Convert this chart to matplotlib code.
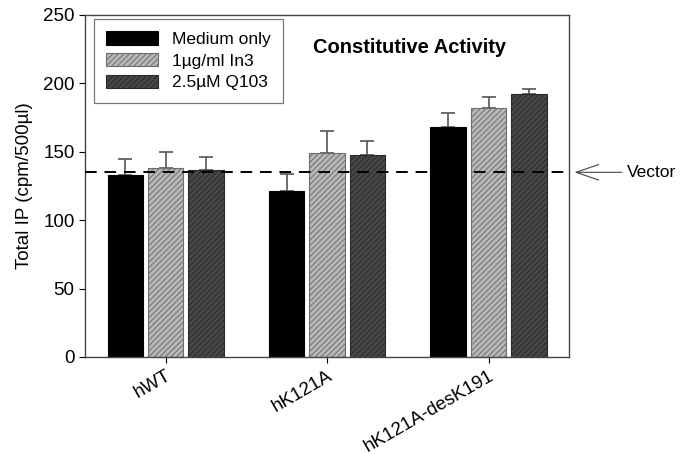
import numpy as np
import matplotlib.pyplot as plt

plt.rcParams['font.family'] = ['Liberation Sans', 'DejaVu Sans']
plt.rcParams['hatch.linewidth'] = 0.7

groups = ['hWT', 'hK121A', 'hK121A-desK191']
series = ['Medium only', '1\u00b5g/ml In3', '2.5\u00b5M Q103']
values = {
    'Medium only': [133, 121, 168],
    '1\u00b5g/ml In3': [138, 149, 182],
    '2.5\u00b5M Q103': [137, 148, 192],
}
errors = {
    'Medium only': [12, 13, 10],
    '1\u00b5g/ml In3': [12, 16, 8],
    '2.5\u00b5M Q103': [9, 10, 4],
}
vector_level = 135

fills = ['black', '#b8b8b8', '#474747']
edges = ['black', '#6e6e6e', '#2a2a2a']
hatches = [None, '//////', '//////']

fig = plt.figure(figsize=(6.85, 4.54), dpi=100)
ax = fig.add_axes([0.124, 0.2137, 0.707, 0.7533])

x = np.arange(len(groups))
width = 0.22
step = 0.25
for i, name in enumerate(series):
    pos = x + (i - 1) * step
    ax.bar(pos, values[name], width, color=fills[i], edgecolor=edges[i],
           hatch=hatches[i], linewidth=0.8, label=name, zorder=2)
    ax.errorbar(pos, values[name], yerr=[np.zeros(3), errors[name]],
                fmt='none', ecolor='#555555', elinewidth=1.2, capsize=5,
                capthick=1.2, zorder=1)

ax.axhline(vector_level, color='black', lw=1.4, dashes=(6, 4), zorder=3)
ax.annotate('Vector', xy=(1.005, vector_level),
            xycoords=('axes fraction', 'data'),
            xytext=(1.12, vector_level), textcoords=('axes fraction', 'data'),
            va='center', ha='left', fontsize=12.5, annotation_clip=False,
            arrowprops=dict(arrowstyle='->,head_length=1.3,head_width=0.45',
                            color='#444444', lw=0.8))

ax.set_xlim(-0.5, 2.5)
ax.set_ylim(0, 250)
ax.set_yticks([0, 50, 100, 150, 200, 250])
ax.set_xticks(x)
ax.set_xticklabels(groups, rotation=30, ha='right', rotation_mode='anchor',
                   fontsize=13.5)
ax.tick_params(axis='y', labelsize=13.5, direction='out', length=4)
ax.tick_params(axis='x', direction='out', length=4)
ax.set_ylabel('Total IP (cpm/500\u00b5l)', fontsize=13.5, labelpad=7)

for s in ax.spines.values():
    s.set_color('#444444')
    s.set_linewidth(1.0)

ax.text(0.67, 0.906, 'Constitutive Activity', transform=ax.transAxes,
        ha='center', va='center', fontsize=14.5, weight='bold')

leg = ax.legend(loc='upper left', bbox_to_anchor=(0.019, 0.988),
                borderaxespad=0, fontsize=12.5, fancybox=False,
                edgecolor='#555555', handlelength=3.0, handleheight=0.8,
                borderpad=0.7, labelspacing=0.35, handletextpad=0.8)
leg.get_frame().set_linewidth(0.9)

fig.savefig('out.png', dpi=100)
